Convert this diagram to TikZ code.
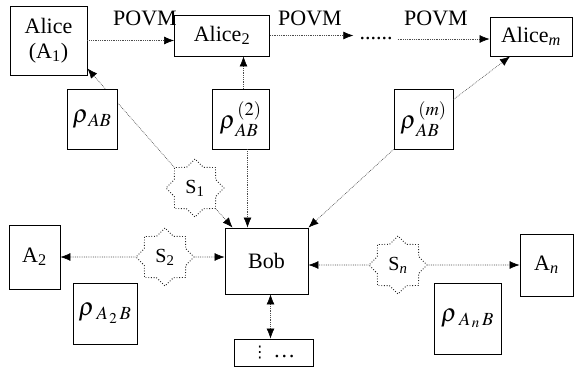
\documentclass[tikz,border=0pt]{standalone}
\usepackage{mathptmx}
\usepackage{fontspec}
\setmainfont{Liberation Serif}
\newfontfamily\dotsfont{DejaVu Sans}
\usepackage{tikz}
\usetikzlibrary{arrows.meta, shapes.geometric}

\tikzset{
  >={Latex[length=10pt,width=8pt,color=black]},
  box/.style={draw, line width=0.9pt, fill=white, inner sep=0pt, align=center},
  state/.style={box, font=\fontsize{25}{28}\selectfont},
  seed/.style={star, star points=8, star point ratio=1.3, draw=black!85, line width=0.9pt,
    dash pattern=on 0.9pt off 1.8pt, minimum size=58pt, inner sep=0pt, font=\fontsize{20}{22}\selectfont},
  link/.style={draw=black!70, line width=0.6pt, dash pattern=on 0.8pt off 1pt, ->},
}

\begin{document}
\begin{tikzpicture}[x=1pt, y=-1pt, font=\fontsize{22}{25}\selectfont]
        \useasboundingbox (0,0) rectangle (574,368);

        % top row
        \node[box, minimum width=77pt, minimum height=69pt] (alice1) at (48.5,40.5) {Alice\\(A\textsubscript{1})};
        \node[box, minimum width=95pt, minimum height=41pt] (alice2) at (222,35.5) {Alice\textsubscript{2}};
        \node[box, minimum width=82pt, minimum height=39pt] (alicem) at (531,36.5) {Alice\textsubscript{\itshape m}};
        \node[inner sep=0pt] (gap) at (376,39) {......};
        \node (povma) at (145,18) {POVM};
        \node (povmb) at (310,18) {POVM};
        \node (povmc) at (436,18) {POVM};

        \node[state, minimum width=57pt, minimum height=60pt] (rho2) at (240.5,119) {$\rho_{\,AB}^{\,(2)}$};
        \node[state, minimum width=59pt, minimum height=60pt] (rhom) at (423.5,119) {$\rho_{\,AB}^{\,(m)}$};

        % sources and parties
        \node[seed] (s1) at (195,188) {S\textsubscript{1}};
        \node[seed] (s2) at (165,257) {S\textsubscript{2}};
        \node[seed] (sn) at (398,265) {S\textsubscript{\itshape n}};
        \node[box, minimum width=83pt, minimum height=66pt] (bob) at (266.5,261) {Bob};
        \node[box, minimum width=51pt, minimum height=64pt] (a2) at (34.5,257) {A\textsubscript{2}};
        \node[box, minimum width=53pt, minimum height=62pt] (an) at (546.5,265) {A\textsubscript{\itshape n}};
        \node[state, minimum width=64pt, minimum height=61pt] (rhoa2) at (105,313.5) {$\rho_{\;A_{\,2}\,B}$};
        \node[state, minimum width=67pt, minimum height=71pt] (rhoan) at (467.5,318.5) {$\rho_{\;A_{\,n}\,B}$};
        \node[box, minimum width=79pt, minimum height=27pt] (more) at (273.5,352.5) {{\dotsfont\fontsize{16}{18}\selectfont ⋮}\ \ldots};

        \draw[link] (alice1.east) -- (alice1.east -| alice2.west);
        \draw[link] (alice2.east) -- ([xshift=-6pt]gap.west |- alice2.east);
        \draw[link] ([xshift=5pt]gap.east) -- (gap.east -| alicem.west);

        \draw[link] (s1.135) -- ([yshift=7pt]alice1.south east);
        \draw[link] (s1.-45) -- ([xshift=8pt]bob.north west);
        \draw[link] ([xshift=3pt]rho2.north) -- ([xshift=3pt]rho2.north |- alice2.south);
        \draw[link] ([xshift=7pt]rho2.south) -- ([xshift=7pt]rho2.south |- bob.north);
        \draw[link] ([yshift=-11pt]rhom.north east) -- ([xshift=-21pt]alicem.south);
        \draw[link] (rhom.south west) -- (bob.north east);

        \draw[link] (s2) -- (a2);
        \draw[link] (s2) -- (s2 -| bob.west);
        \draw[link] (sn) -- (sn -| bob.east);
        \draw[link] (sn) -- (sn -| an.west);
        \draw[link, <->] ([xshift=4pt]bob.south) -- ([xshift=4pt]bob.south |- more.north);

        % drawn last, it hides the line to Alice
        \node[state, minimum width=50pt, minimum height=60pt] (rho) at (92,119) {$\rho_{\,AB}$};

    \end{tikzpicture}
\end{document}
